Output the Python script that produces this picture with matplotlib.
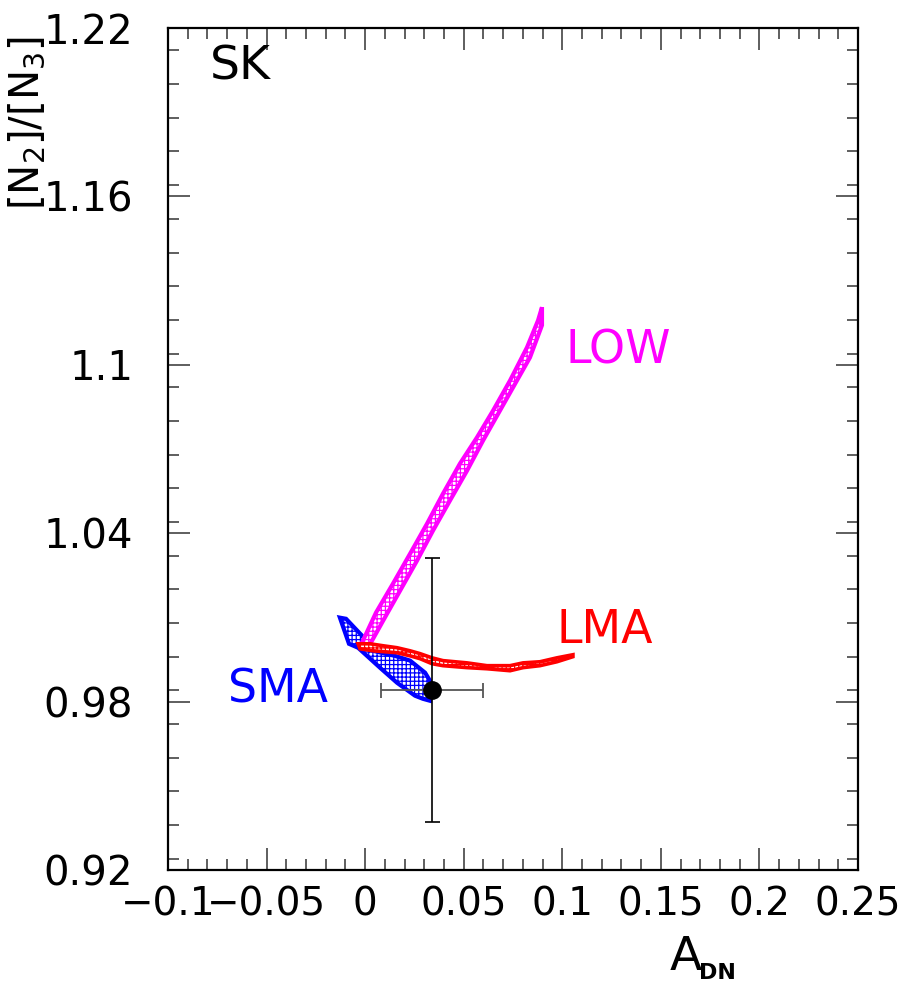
import numpy as np
import matplotlib
matplotlib.use('Agg')
import matplotlib.pyplot as plt
from matplotlib.patches import Polygon
from matplotlib.ticker import MultipleLocator

plt.rcParams['font.family'] = ['DejaVu Sans']
plt.rcParams['hatch.linewidth'] = 0.9

# LOW region outline (A_DN, N2/N3)
low_x = [-0.0016, 0.0055, 0.0141, 0.0228, 0.0314, 0.0395, 0.0481, 0.0567, 0.0649, 0.0735, 0.0821, 0.0877, 0.0897,
         0.0897, 0.0836, 0.0770, 0.0684, 0.0598, 0.0517, 0.0430, 0.0344, 0.0263, 0.0177, 0.0091, 0.0015]
low_y = [1.0010, 1.0117, 1.0220, 1.0327, 1.0434, 1.0541, 1.0648, 1.0741, 1.0837, 1.0944, 1.1062, 1.1158, 1.1205,
         1.1141, 1.1026, 1.0944, 1.0837, 1.0730, 1.0623, 1.0516, 1.0409, 1.0302, 1.0195, 1.0088, 0.9992]

# LMA region outline
lma_x = [-0.0036, 0.0025, 0.0091, 0.0162, 0.0228, 0.0278, 0.0339, 0.0395, 0.0517, 0.0618, 0.0735, 0.0801, 0.0887, 0.0973, 0.1054,
         0.1054, 0.0973, 0.0887, 0.0801, 0.0735, 0.0618, 0.0517, 0.0395, 0.0339, 0.0278, 0.0228, 0.0162, 0.0040, -0.0026]
lma_y = [1.0006, 1.0006, 0.9999, 0.9992, 0.9981, 0.9971, 0.9956, 0.9946, 0.9938, 0.9928, 0.9928, 0.9938, 0.9942, 0.9956, 0.9967,
         0.9960, 0.9942, 0.9928, 0.9921, 0.9910, 0.9917, 0.9921, 0.9928, 0.9935, 0.9953, 0.9963, 0.9974, 0.9981, 0.9988]

# SMA region outline
sma_x = [-0.0128, -0.0097, -0.0016, 0.0040, 0.0151, 0.0228, 0.0304, 0.0329, 0.0339, 0.0329, 0.0293, 0.0253, 0.0162, 0.0075, -0.0036, -0.0082]
sma_y = [1.0099, 1.0095, 1.0035, 0.9981, 0.9963, 0.9946, 0.9903, 0.9874, 0.9846, 0.9803, 0.9810, 0.9821, 0.9867, 0.9921, 0.9992, 1.0006]

# SK data point
sk_x = 0.034
sk_y = 0.984
sk_xerr = 0.026
sk_yerr = 0.047

fig = plt.figure(figsize=(9.07, 9.98), dpi=100)
ax = fig.add_axes([168/907, 128/998, 690/907, 842/998])

ax.add_patch(Polygon(np.column_stack([sma_x, sma_y]), closed=True, facecolor='white',
                     edgecolor='blue', hatch='++++', linewidth=3, zorder=2))
ax.add_patch(Polygon(np.column_stack([low_x, low_y]), closed=True, facecolor='white',
                     edgecolor='magenta', hatch='++++', linewidth=3, zorder=3))
ax.add_patch(Polygon(np.column_stack([lma_x, lma_y]), closed=True, facecolor='white',
                     edgecolor='red', hatch='++++', linewidth=2.6, zorder=4))

ax.errorbar([sk_x], [sk_y], xerr=[sk_xerr], fmt='none', ecolor='#555555', elinewidth=1.3, capsize=5.4, capthick=1.3, zorder=5)
ax.errorbar([sk_x], [sk_y], yerr=[sk_yerr], fmt='none', ecolor='black', elinewidth=1.2, capsize=5.4, capthick=1.2, zorder=5)
ax.plot([sk_x], [sk_y], 'o', color='black', markersize=12.5, zorder=6)

ax.set_xlim(-0.1, 0.25)
ax.set_ylim(0.92, 1.22)
ax.xaxis.set_minor_locator(MultipleLocator(0.01))
ax.yaxis.set_minor_locator(MultipleLocator(0.012))
ax.set_xticks([-0.1, -0.05, 0, 0.05, 0.1, 0.15, 0.2, 0.25])
ax.set_xticklabels(['\u22120.1', '\u22120.05', '0', '0.05', '0.1', '0.15', '0.2', '0.25'])
ax.set_yticks([0.92, 0.98, 1.04, 1.1, 1.16, 1.22])
ax.set_yticklabels(['0.92', '0.98', '1.04', '1.1', '1.16', '1.22'])

ax.tick_params(which='both', direction='in', top=True, right=True, width=1.1, color='#333333')
ax.tick_params(which='major', length=16)
ax.tick_params(which='minor', length=8)
ax.tick_params(axis='y', which='major', labelsize=29, pad=25)
ax.tick_params(axis='x', which='major', labelsize=28, pad=11)
for s in ax.spines.values():
    s.set_linewidth(1.6)

ax.text(0.1015, 1.105, 'LOW', color='magenta', fontsize=33, ha='left', va='center')
ax.text(0.0973, 1.0055, 'LMA', color='red', fontsize=33, ha='left', va='center')
ax.text(-0.0188, 0.9840, 'SMA', color='blue', fontsize=33, ha='right', va='center')
ax.text(-0.0787, 1.2060, 'SK', color='black', fontsize=34, ha='left', va='center')

fig.text(27/907, 1 - 123/998, r'[N$_2$]/[N$_3$]', rotation=90, fontsize=29, ha='center', va='center')
fig.text(686/907, 1 - 957/998, 'A', fontsize=34, ha='center', va='center')
fig.text(717/907, 1 - 973/998, 'DN', fontsize=16, fontweight='bold', ha='center', va='center')

plt.savefig('out.png', dpi=100)
